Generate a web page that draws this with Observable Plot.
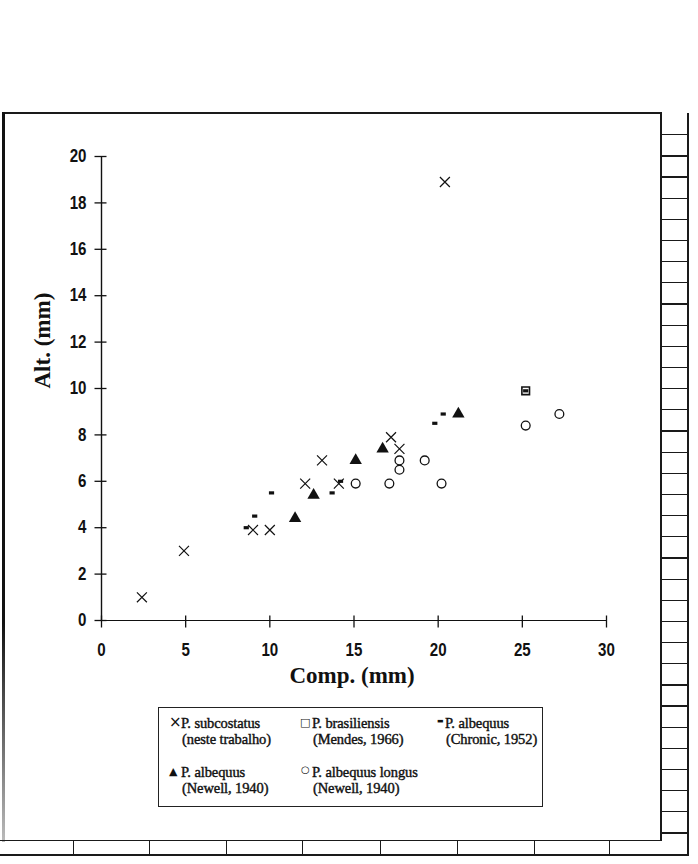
<!DOCTYPE html>
<html>
<head>
<meta charset="utf-8">
<script src="https://cdn.jsdelivr.net/npm/d3@7"></script>
<script src="https://cdn.jsdelivr.net/npm/@observablehq/plot@0.6"></script>
<style>
  html, body { margin: 0; padding: 0; background: #fff; }
  #wrap { position: relative; width: 698px; height: 864px; overflow: hidden; background: #fff; }
  #chart { position: absolute; left: 0; top: 0; }
  .ln { position: absolute; background: #1a1a1a; }
  #legend { position: absolute; left: 158px; top: 707px; width: 385px; height: 100px;
            border: 1.3px solid #222; box-sizing: border-box; }
  .lg { position: absolute; font-family: "Liberation Serif", "Times New Roman", serif;
        font-size: 14.5px; color: #111; white-space: nowrap; line-height: 16px;
        -webkit-text-stroke: 0.4px #111; letter-spacing: -0.1px; }
  .sym { position: absolute; font-family: "DejaVu Sans", sans-serif; color: #111; -webkit-text-stroke: 0; }
</style>
</head>
<body>
<div id="wrap">
  <div id="chart"></div>
  <div id="legend"></div>
</div>
<script>
// ---- data (Comp. mm, Alt. mm) ----
const subcostatus = [[2.4,1.0],[4.9,3.0],[9.0,3.9],[10.0,3.9],[12.1,5.9],[13.1,6.9],[14.1,5.9],[17.2,7.9],[17.7,7.4],[20.4,18.9]];
const brasiliensis = [[25.2,9.9]];
const albequusChronic = [[8.6,4.0],[9.1,4.5],[10.1,5.5],[13.7,5.5],[14.2,6.0],[19.8,8.5],[20.3,8.9]];
const albequusNewell = [[11.5,4.4],[12.6,5.4],[15.1,6.9],[16.7,7.4],[21.2,8.9]];
const albequusLongus = [[15.1,5.9],[17.1,5.9],[17.7,6.5],[17.7,6.9],[19.2,6.9],[20.2,5.9],[25.2,8.4],[27.2,8.9]];
const xTicks = [0,5,10,15,20,25,30];
const yTicks = [0,2,4,6,8,10,12,14,16,18,20];
const xTitle = "Comp. (mm)";
const yTitle = "Alt. (mm)";
const legendItems = [
  {sym: "×", l1: "P. subcostatus", l2: "(neste trabalho)"},
  {sym: "□", l1: "P. brasiliensis", l2: "(Mendes, 1966)"},
  {sym: "▬", l1: "P. albequus", l2: "(Chronic, 1952)"},
  {sym: "▲", l1: "P. albequus", l2: "(Newell, 1940)"},
  {sym: "○", l1: "P. albequus longus", l2: "(Newell, 1940)"}
];

// ---- custom symbols ----
const hTick = {draw(c){ c.moveTo(-7,0); c.lineTo(5,0); }};
const vTick = {draw(c){ c.moveTo(0,-5); c.lineTo(0,7); }};
const dash = {draw(c){ c.rect(-2.6,-1.6,5.2,3.2); }};

const ink = "#111";
const tickFont = {fontFamily: "'Liberation Sans', Arial, sans-serif", fontSize: 18, fontWeight: "bold"};
const titleFont = {fontFamily: "'Liberation Serif', 'Times New Roman', serif", fontSize: 23, fontWeight: "bold"};

const plot = Plot.plot({
  width: 698,
  height: 720,
  marginLeft: 101,
  marginRight: 92,
  marginTop: 156,
  marginBottom: 100,
  style: {background: "transparent", overflow: "visible"},
  x: {domain: [0, 30], axis: null},
  y: {domain: [0, 20], axis: null},
  marks: [
    Plot.ruleX([0], {stroke: ink, strokeWidth: 1.4}),
    Plot.ruleY([0], {stroke: ink, strokeWidth: 1.2}),
    Plot.dot(yTicks, {x: () => 0, y: d => d, symbol: hTick, fill: "none", stroke: ink, strokeWidth: 1.3, r: 4}),
    Plot.dot(xTicks, {x: d => d, y: () => 0, symbol: vTick, fill: "none", stroke: ink, strokeWidth: 1.3, r: 4}),
    Plot.text(yTicks, {x: () => 0, y: d => d, text: d => String(d), textAnchor: "end", dx: -15, fill: ink, className: "ticklab", ...tickFont}),
    Plot.text(xTicks, {x: d => d, y: () => 0, text: d => String(d), dy: 30, fill: ink, className: "ticklab", ...tickFont}),
    Plot.text([xTitle], {frameAnchor: "bottom", dy: 62, dx: -2, fill: ink, ...titleFont}),
    Plot.text([yTitle], {frameAnchor: "left", dx: -59, rotate: -90, fill: ink, ...titleFont}),
    // data
    Plot.dot(albequusLongus, {x: d => d[0], y: d => d[1], symbol: "circle", r: 4.4, fill: "none", stroke: ink, strokeWidth: 1.3}),
    Plot.dot(brasiliensis, {x: d => d[0], y: d => d[1], symbol: "square", r: 4.3, fill: "none", stroke: ink, strokeWidth: 1.6}),
    Plot.dot(brasiliensis, {x: d => d[0], y: d => d[1], symbol: dash, fill: ink, stroke: "none", r: 2}),
    Plot.dot(albequusNewell, {x: d => d[0], y: d => d[1], symbol: "triangle", r: 4.6, fill: ink, stroke: "none"}),
    Plot.dot(albequusChronic, {x: d => d[0], y: d => d[1], symbol: dash, fill: ink, stroke: "none", r: 2}),
    Plot.dot(subcostatus, {x: d => d[0], y: d => d[1], symbol: "times", r: 4.6, fill: "none", stroke: ink, strokeWidth: 1.2})
  ]
});
document.getElementById("chart").appendChild(plot);
// condense the tick digits like the original's narrow face
plot.querySelectorAll("g.ticklab text, .ticklab text").forEach(t => {
  const tr = t.getAttribute("transform") || "";
  t.setAttribute("transform", tr + " scale(0.84,1)");
});

// ---- legend ----
const legend = document.getElementById("legend");
const colX = [22, 153, 286];
const rowY = [7, 56];
const symStyle = [
  "font-size:15px; left:-12px; top:-1px;",
  "font-size:11px; left:-12px; top:0px;",
  "font-size:7px; left:-8px; top:-2px;",
  "font-size:11px; left:-12px; top:0px;",
  "font-size:10px; left:-11px; top:-2px;"
];
legendItems.forEach((it, i) => {
  const x = colX[i % 3], y = rowY[Math.floor(i / 3)];
  const a = document.createElement("div");
  a.className = "lg"; a.style.left = x + "px"; a.style.top = y + "px";
  a.innerHTML = `<span class="sym" style="${symStyle[i]}">${it.sym}</span>${it.l1}`;
  const b = document.createElement("div");
  b.className = "lg"; b.style.left = (x + 1) + "px"; b.style.top = (y + 16) + "px";
  b.textContent = it.l2;
  legend.appendChild(a); legend.appendChild(b);
});

// ---- scanned page frame (decoration) ----
const wrap = document.getElementById("wrap");
function line(l, t, w, h, bg) {
  const d = document.createElement("div");
  d.className = "ln";
  d.style.left = l + "px"; d.style.top = t + "px"; d.style.width = w + "px"; d.style.height = h + "px";
  if (bg) d.style.background = bg;
  wrap.appendChild(d);
}
line(2, 112, 660, 1.5);
line(2, 112, 3, 730, "linear-gradient(#111 0%, #111 70%, #bbb 100%)");
line(660, 113, 1.5, 728);
line(687, 113, 1.8, 742);
for (let k = 1; k * 21.16 + 113 < 840; k++) line(660, 113 + k * 21.16, 28, 1.2);
line(0, 840, 661, 1.3);
line(0, 854, 689, 1.8);
[73, 149, 226, 302, 380, 457, 534, 609].forEach(x => line(x, 840, 1.2, 14));
</script>
</body>
</html>
